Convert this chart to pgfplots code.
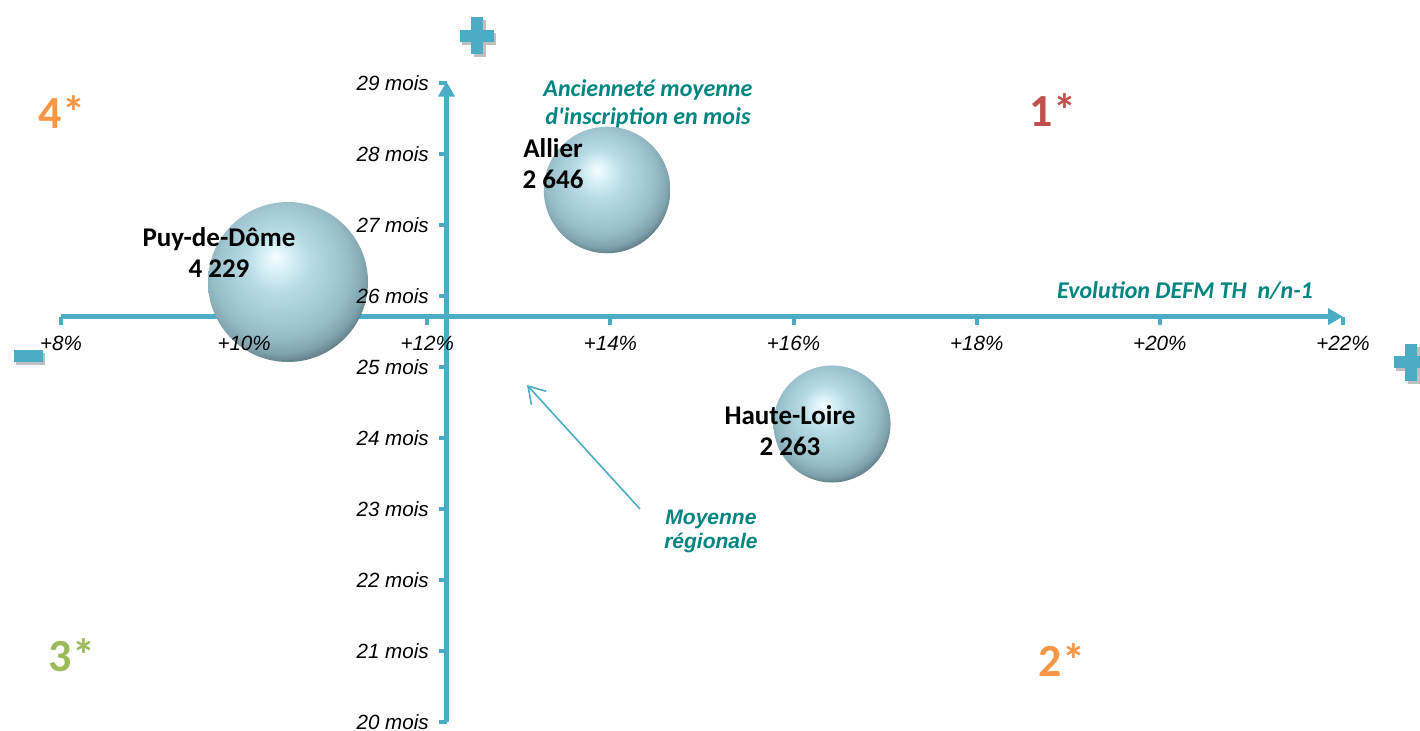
\documentclass[border=0pt]{standalone}
\usepackage{fontspec}
\setmainfont{Liberation Sans}
\newfontfamily\calibri{Carlito}
\usepackage{pgfplots}
\pgfplotsset{compat=1.18}
\usetikzlibrary{arrows.meta}
\definecolor{axc}{RGB}{75,172,198}
\definecolor{tealtxt}{RGB}{0,133,128}
\definecolor{qorange}{RGB}{247,150,70}
\definecolor{qred}{RGB}{192,80,77}
\definecolor{qgreen}{RGB}{155,187,89}
\definecolor{b0}{RGB}{245,253,255}
\definecolor{b1}{RGB}{218,241,247}
\definecolor{b2}{RGB}{182,219,229}
\definecolor{b3}{RGB}{163,202,213}
\definecolor{b4}{RGB}{148,187,198}
\definecolor{b5}{RGB}{128,164,175}
\definecolor{b6}{RGB}{95,122,131}
\definecolor{b7}{RGB}{55,70,76}
\pgfdeclareradialshading{bub}{\pgfpoint{-4bp}{8bp}}{%
  color(0bp)=(b0); color(4bp)=(b1); color(10bp)=(b2); color(17bp)=(b3);
  color(22bp)=(b4); color(26bp)=(b5); color(29bp)=(b6); color(33bp)=(b7); color(50bp)=(b7)}
\pgfdeclareplotmark{sphere}{%
  \pgfpathcircle{\pgfpointorigin}{\pgfplotmarksize}%
  \pgfshadepath{bub}{0}%
  \pgfusepath{discard}%
}
\pgfplotstableread{
x      y      n
10.479 26.197 4229
13.963 27.493 2646
16.420 24.197 2263
}\bubbles
\newcommand\plussign[2]{%
  \fill[black!25] ([xshift=-7.5pt,yshift=-4.5pt]axis cs:#1,#2) rectangle ++(17pt,6pt);
  \fill[black!25] ([xshift=-1.5pt,yshift=-10.75pt]axis cs:#1,#2) rectangle ++(6pt,18.5pt);
  \fill[axc] ([xshift=-8.5pt,yshift=-3pt]axis cs:#1,#2) rectangle ++(17pt,6pt);
  \fill[axc] ([xshift=-3pt,yshift=-9.25pt]axis cs:#1,#2) rectangle ++(6pt,18.5pt);
}
\begin{document}
\begin{tikzpicture}
\begin{axis}[
  scale only axis, width=710pt, height=365.5pt,
  xmin=7.3339, xmax=22.841, ymin=19.873, ymax=30.169,
  hide axis, clip=false, set layers,
]
% plus / minus signs (with light shadow)
\fill[black!25] ([xshift=-6.25pt,yshift=-4.5pt]axis cs:7.640,25.155) rectangle ++(14.5pt,6pt);
\fill[axc] ([xshift=-7.25pt,yshift=-3pt]axis cs:7.640,25.155) rectangle ++(14.5pt,6pt);
\plussign{12.543}{29.662}
\plussign{22.742}{25.07}
% axes
\draw[axc, line width=2.5pt, -{Triangle[length=7.5pt,width=8pt]}] (axis cs:8,25.71) -- (axis cs:22,25.71);
\draw[axc, line width=2.5pt, -{Triangle[length=7.5pt,width=8pt]}] (axis cs:12.21,20) -- (axis cs:12.21,29.02);
\pgfplotsinvokeforeach{8,10,...,22}{
  \draw[axc, line width=2pt] (axis cs:#1,25.71) -- ([yshift=-4pt]axis cs:#1,25.71);
  \begin{pgfonlayer}{axis foreground}
  \node[font=\itshape\fontsize{10.3}{12}\selectfont] at (axis cs:#1,25.338) {+#1\%};
  \end{pgfonlayer}
}
\pgfplotsinvokeforeach{20,21,...,29}{
  \draw[axc, line width=2pt] (axis cs:12.21,#1) -- ([xshift=-4pt]axis cs:12.21,#1);
  \begin{pgfonlayer}{axis foreground}
  \node[anchor=east, font=\itshape\fontsize{10.3}{12}\selectfont] at (axis cs:12.093,#1) {#1 mois};
  \end{pgfonlayer}
}
% bubbles
\addplot[scatter, only marks, mark=sphere,
  visualization depends on={40*sqrt(\thisrow{n}/4229) \as \rad},
  scatter/@pre marker code/.append style={/tikz/mark size=\rad}]
  table[x=x, y=y] {\bubbles};
% bubble labels
\begin{pgfonlayer}{axis foreground}
\node[align=center, font=\calibri\bfseries\fontsize{13.5}{15.5}\selectfont] at (axis cs:9.725,26.606) {Puy-de-Dôme\\4 229};
\node[align=center, font=\calibri\bfseries\fontsize{13.5}{15.5}\selectfont] at (axis cs:13.373,27.859) {Allier\\2 646};
\node[align=center, font=\calibri\bfseries\fontsize{13.5}{15.5}\selectfont] at (axis cs:15.961,24.099) {Haute-Loire\\2 263};
\end{pgfonlayer}
% axis titles
\node[align=center, text=tealtxt, font=\calibri\bfseries\itshape\fontsize{12}{14}\selectfont] at (axis cs:14.41,28.704) {Ancienneté moyenne\\d'inscription en mois};
\node[text=tealtxt, font=\calibri\bfseries\itshape\fontsize{12}{14}\selectfont] at (axis cs:20.275,26.07) {Evolution DEFM TH~~n/n-1};
% regional mean annotation
\draw[axc, line width=0.8pt, -{Straight Barb[length=8pt,width=10pt]}] (axis cs:14.323,23.0) -- (axis cs:13.089,24.746);
\node[align=center, text=tealtxt, font=\bfseries\itshape\fontsize{10.5}{12}\selectfont] at (axis cs:15.098,22.69) {Moyenne\\régionale};
% quadrant labels
\node[text=qorange, font=\calibri\bfseries\fontsize{23}{26}\selectfont] at (axis cs:8.011,28.592) {4*};
\node[text=qred, font=\calibri\bfseries\fontsize{23}{26}\selectfont] at (axis cs:18.833,28.62) {1*};
\node[text=qgreen, font=\calibri\bfseries\fontsize{23}{26}\selectfont] at (axis cs:8.12,20.944) {3*};
\node[text=qorange, font=\calibri\bfseries\fontsize{23}{26}\selectfont] at (axis cs:18.93,20.873) {2*};
\end{axis}
\pgfresetboundingbox
\path (current axis.south west) rectangle (current axis.north east);
\end{tikzpicture}
\end{document}
